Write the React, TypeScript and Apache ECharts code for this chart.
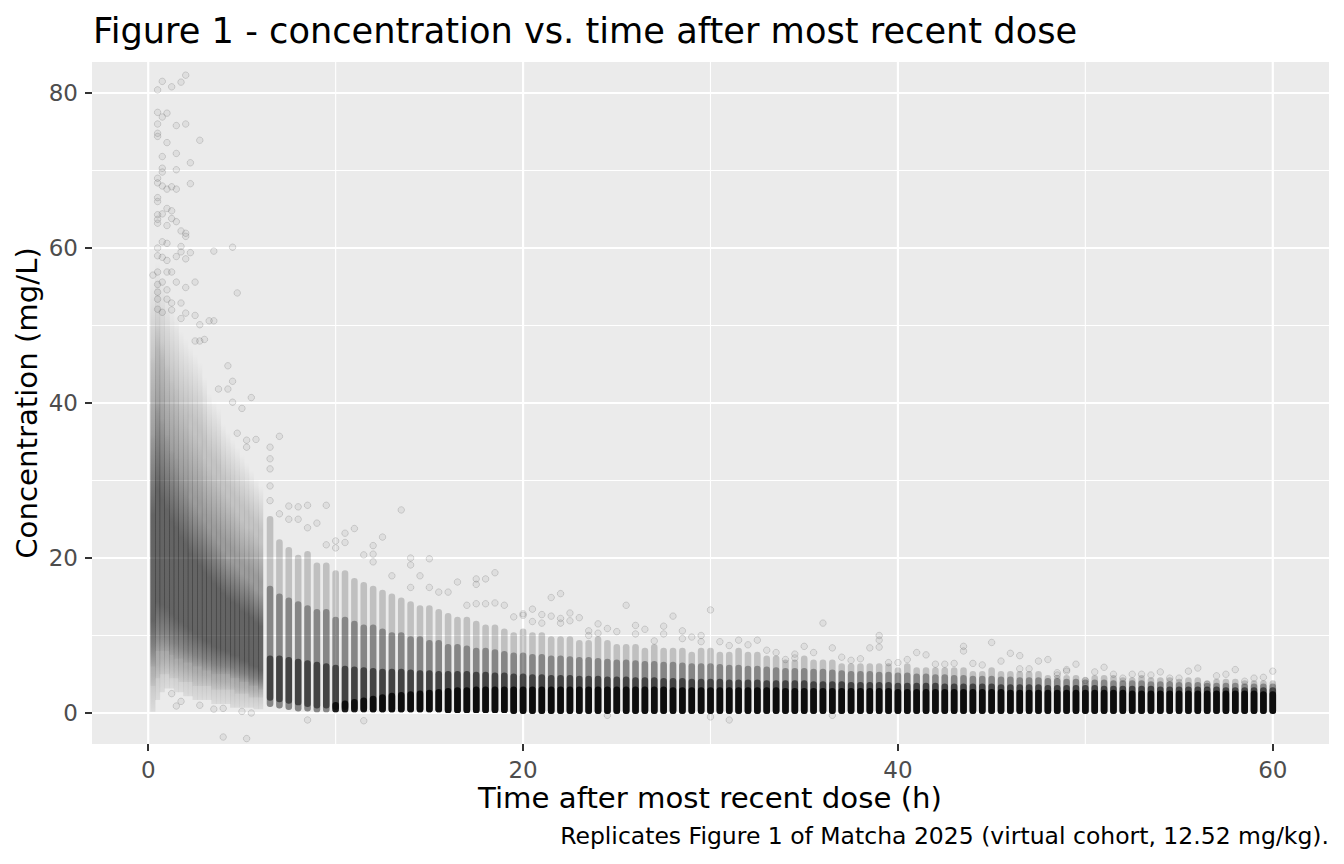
import * as echarts from "echarts";
import { useEffect, useRef } from "react";

// axis ticks and grid
const xMajor = [0, 20, 40, 60];
const xMinor = [10, 30, 50];
const yMajor = [0, 20, 40, 60, 80];
const yMinor = [10, 30, 50, 70];

// 0-6 h: dense cloud, sampled every 0.25 h (low / top of the spread, mid and core density bands)
const earlyTimes = [0.25, 0.5, 0.75, 1.0, 1.25, 1.5, 1.75, 2.0, 2.25, 2.5, 2.75, 3.0, 3.25, 3.5, 3.75, 4.0, 4.25, 4.5, 4.75, 5.0, 5.25, 5.5, 5.75, 6.0];
const earlyLow = [0.5, 2, 3, 3.5, 3.5, 3, 3, 2.5, 2.5, 2, 2, 2, 2, 1.5, 1.5, 1.5, 1.5, 1, 1, 1, 1, 1, 0.8, 0.8];
const earlyTop = [56, 58, 56, 54, 52, 51, 49, 48, 47, 46, 45, 43, 41, 40, 39, 37, 36, 35, 34, 33, 32, 31, 30, 29];
const earlyMidLow = [3.5, 4.5, 5, 5, 4.5, 4.5, 4, 4, 4, 3.5, 3.5, 3.5, 3.5, 3, 3, 3, 3, 3, 2.5, 2.5, 2.5, 2, 2, 2];
const earlyMidTop = [46, 50, 48, 45, 43, 42, 40, 39, 37, 36, 35, 33, 32, 31, 30, 29, 28, 27, 26, 25, 24, 24, 23, 22];
const earlyCoreLow = [6, 8, 8, 8, 7.5, 7, 7, 6.5, 6.5, 6, 6, 5.5, 5.5, 5, 5, 5, 5, 4.5, 4.5, 4, 4, 3.5, 3.5, 3];
const earlyCoreTop = [36, 40, 38, 36, 34, 33, 31, 30, 28, 27, 26, 25, 24, 23, 22, 21, 20, 19.5, 19, 18, 17.5, 17, 16, 15.5];

// 6.5-60 h: one column of subjects every 0.5 h
const lateTimes = [
  6.5, 7, 7.5, 8, 8.5, 9, 9.5, 10, 10.5, 11, 11.5, 12, 12.5, 13, 13.5, 14, 14.5, 15, 15.5, 16, 16.5, 17, 17.5, 18, 18.5, 19, 19.5, 20,
  20.5, 21, 21.5, 22, 22.5, 23, 23.5, 24, 24.5, 25, 25.5, 26, 26.5, 27, 27.5, 28, 28.5, 29, 29.5, 30,
  30.5, 31, 31.5, 32, 32.5, 33, 33.5, 34, 34.5, 35, 35.5, 36, 36.5, 37, 37.5, 38, 38.5, 39, 39.5, 40,
  40.5, 41, 41.5, 42, 42.5, 43, 43.5, 44, 44.5, 45, 45.5, 46, 46.5, 47, 47.5, 48, 48.5, 49, 49.5, 50,
  50.5, 51, 51.5, 52, 52.5, 53, 53.5, 54, 54.5, 55, 55.5, 56, 56.5, 57, 57.5, 58, 58.5, 59, 59.5, 60,
];
const lateLow = [
  1.2, 1.0, 0.8, 0.6, 0.6, 0.5, 0.5, 0.5, 0.5, 0.5, 0.5, 0.5, 0.5, 0.5, 0.5, 0.5, 0.5, 0.5, 0.5, 0.4, 0.4, 0.4, 0.4, 0.4, 0.4, 0.4, 0.3, 0.3,
  0.3, 0.3, 0.3, 0.3, 0.3, 0.3, 0.3, 0.3, 0.3, 0.3, 0.3, 0.3, 0.3, 0.3, 0.3, 0.3, 0.3, 0.3, 0.3, 0.3,
  0.3, 0.3, 0.3, 0.3, 0.3, 0.3, 0.3, 0.3, 0.3, 0.3, 0.3, 0.3, 0.3, 0.3, 0.3, 0.3, 0.3, 0.3, 0.3, 0.3,
  0.3, 0.3, 0.3, 0.3, 0.3, 0.3, 0.3, 0.3, 0.3, 0.3, 0.3, 0.3, 0.3, 0.3, 0.3, 0.3, 0.3, 0.3, 0.3, 0.3,
  0.3, 0.3, 0.3, 0.3, 0.3, 0.3, 0.3, 0.3, 0.3, 0.3, 0.3, 0.3, 0.3, 0.3, 0.3, 0.3, 0.3, 0.3, 0.3, 0.3,
];
const lateTop = [
  25, 22, 21, 20, 20.5, 19, 19, 18, 18, 17, 16.5, 16, 15.5, 15, 14.5, 14, 13.5, 13.5, 13, 12.5, 12, 12, 11.5, 11, 11, 10.5, 10, 10.5,
  10, 10, 9.5, 9.5, 9.5, 9, 9, 9.5, 9, 8.5, 8.5, 8.5, 8, 8.5, 8, 8, 8, 7.5, 8, 8,
  7.5, 7.5, 8, 7.5, 7.5, 7, 7, 6.5, 6.5, 7, 6.5, 6.5, 6.5, 6, 6, 6, 6, 6, 6, 5.5,
  6, 5.5, 5.5, 5.5, 5.5, 5.5, 5.5, 5, 5, 5.5, 5, 5, 5, 5, 5, 4.5, 4.5, 4.5, 4.5, 4.2,
  4.5, 4.5, 4.5, 4.2, 4.2, 4.5, 4.2, 4.2, 4.2, 4, 4.2, 4.2, 3.8, 4, 4, 4, 3.8, 3.8, 3.8, 3.8,
];
const lateMid = [
  16, 15, 14.5, 14, 13.5, 13, 13, 12, 12, 11.5, 11, 11, 10.5, 10, 10, 9.5, 9.5, 9, 9, 8.5, 8.5, 8.3, 8, 8, 7.8, 7.6, 7.4, 7.4,
  7.2, 7.2, 7, 7, 6.9, 6.8, 6.8, 6.7, 6.6, 6.5, 6.5, 6.4, 6.3, 6.3, 6.2, 6.2, 6.1, 6, 6, 6,
  5.9, 5.8, 5.8, 5.7, 5.7, 5.6, 5.5, 5.4, 5.4, 5.4, 5.3, 5.3, 5.2, 5.1, 5, 5, 5, 4.9, 4.9, 4.8,
  4.8, 4.7, 4.7, 4.6, 4.6, 4.5, 4.5, 4.4, 4.4, 4.4, 4.3, 4.3, 4.2, 4.2, 4.2, 4.1, 4.1, 4, 4, 3.9,
  3.9, 3.9, 3.8, 3.8, 3.8, 3.8, 3.7, 3.7, 3.7, 3.6, 3.6, 3.6, 3.5, 3.5, 3.5, 3.5, 3.4, 3.4, 3.4, 3.4,
];
const lateDark = [
  7, 7, 6.8, 6.6, 6.4, 6.2, 6, 5.8, 5.7, 5.6, 5.5, 5.4, 5.3, 5.3, 5.3, 5.2, 5.1, 5.1, 5, 5, 5, 5, 4.9, 4.9, 4.8, 4.8, 4.7, 4.7,
  4.6, 4.6, 4.5, 4.5, 4.5, 4.4, 4.4, 4.4, 4.3, 4.3, 4.3, 4.2, 4.2, 4.2, 4.1, 4.1, 4.1, 4, 4, 4,
  4, 3.9, 3.9, 3.9, 3.9, 3.8, 3.8, 3.8, 3.8, 3.8, 3.7, 3.7, 3.7, 3.7, 3.6, 3.6, 3.6, 3.6, 3.6, 3.5,
  3.5, 3.5, 3.5, 3.5, 3.4, 3.4, 3.4, 3.4, 3.4, 3.4, 3.3, 3.3, 3.3, 3.3, 3.3, 3.2, 3.2, 3.2, 3.2, 3.2,
  3.2, 3.1, 3.1, 3.1, 3.1, 3.1, 3.1, 3, 3, 3, 3, 3, 3, 3, 2.9, 2.9, 2.9, 2.9, 2.9, 2.9,
];
const lateDarkLow = [
  2, 1.8, 1.6, 1.4, 1.2, 1, 1, 0.8, 0.8, 0.7, 0.6, 0.5, 0.5, 0.5, 0.5, 0.5, 0.5, 0.5, 0.5, 0.4, 0.4, 0.4, 0.4, 0.4, 0.4, 0.4, 0.3, 0.3,
  0.3, 0.3, 0.3, 0.3, 0.3, 0.3, 0.3, 0.3, 0.3, 0.3, 0.3, 0.3, 0.3, 0.3, 0.3, 0.3, 0.3, 0.3, 0.3, 0.3,
  0.3, 0.3, 0.3, 0.3, 0.3, 0.3, 0.3, 0.3, 0.3, 0.3, 0.3, 0.3, 0.3, 0.3, 0.3, 0.3, 0.3, 0.3, 0.3, 0.3,
  0.3, 0.3, 0.3, 0.3, 0.3, 0.3, 0.3, 0.3, 0.3, 0.3, 0.3, 0.3, 0.3, 0.3, 0.3, 0.3, 0.3, 0.3, 0.3, 0.3,
  0.3, 0.3, 0.3, 0.3, 0.3, 0.3, 0.3, 0.3, 0.3, 0.3, 0.3, 0.3, 0.3, 0.3, 0.3, 0.3, 0.3, 0.3, 0.3, 0.3,
];
// 0 = no solid black core in that column
const lateBlack = [
  0, 0, 0, 0, 0, 0, 0, 1.0, 1.2, 1.4, 1.6, 1.8, 2.0, 2.2, 2.3, 2.4, 2.5, 2.6, 2.7, 2.8, 2.9, 2.9, 3, 3, 3, 3, 3, 3,
  3, 3, 3, 3, 3, 3, 3, 3, 3, 3, 3, 3, 3, 3, 3, 2.9, 2.9, 2.9, 2.9, 2.9,
  2.9, 2.9, 2.9, 2.9, 2.9, 2.9, 2.9, 2.8, 2.8, 2.8, 2.8, 2.8, 2.8, 2.8, 2.8, 2.8, 2.8, 2.8, 2.8, 2.7,
  2.7, 2.7, 2.7, 2.7, 2.7, 2.7, 2.7, 2.7, 2.7, 2.7, 2.7, 2.6, 2.6, 2.6, 2.6, 2.6, 2.6, 2.6, 2.6, 2.6,
  2.6, 2.6, 2.6, 2.6, 2.5, 2.5, 2.5, 2.5, 2.5, 2.5, 2.5, 2.5, 2.5, 2.5, 2.5, 2.5, 2.5, 2.5, 2.4, 2.4,
];

// isolated observations standing out of the clouds: [time (h), concentration (mg/L)]
const outliers: [number, number][] = [
  [0.5, 80.4], [0.75, 81.5], [1.25, 80.8], [1.75, 81.4], [2.0, 82.3],
  [0.5, 77.5], [0.75, 76.9], [1.0, 77.4], [0.5, 76.0], [1.5, 75.8], [2.0, 76.0], [0.5, 74.8], [0.5, 74.4], [1.0, 73.6], [2.75, 73.9],
  [0.75, 71.8], [1.5, 72.2], [2.25, 71.0], [0.75, 70.3], [0.75, 69.8], [1.5, 70.1], [0.5, 69.0], [0.5, 68.4], [0.75, 68.0], [1.0, 67.6],
  [1.25, 67.9], [1.5, 67.6], [2.25, 68.3], [0.5, 66.5], [0.5, 66.0], [1.0, 65.1], [1.25, 64.8], [0.5, 64.3], [0.5, 63.7], [0.5, 63.2],
  [0.75, 64.4], [1.25, 63.8], [1.5, 63.4], [1.0, 62.9], [1.75, 62.2], [2.0, 61.9], [2.0, 61.5], [0.75, 60.8], [1.0, 60.6], [1.75, 60.2],
  [1.75, 59.5], [0.5, 60.0], [0.5, 59.0], [0.75, 58.8], [1.0, 58.4], [1.5, 58.9], [2.0, 58.6], [2.25, 59.4], [3.5, 59.6], [4.5, 60.1],
  [0.5, 56.9], [1.0, 56.9], [1.25, 56.9], [0.25, 56.5], [0.75, 55.6], [1.5, 55.6], [2.0, 54.9], [2.5, 55.6], [4.75, 54.2],
  [0.5, 55.3], [0.5, 54.3], [0.5, 53.4], [1.0, 54.6], [1.0, 53.4], [1.25, 52.9], [1.75, 52.9],
  [0.5, 52.1], [0.75, 51.7], [1.25, 52.0], [1.75, 50.9], [2.0, 51.6], [2.5, 51.3], [2.75, 50.1], [3.25, 50.6], [3.5, 50.6],
  [2.5, 48.0], [2.75, 48.0], [3.0, 48.2], [4.25, 44.8], [4.5, 42.8], [3.75, 41.8], [4.25, 41.8], [4.5, 40.1], [5.0, 39.3],
  [5.5, 40.7], [4.75, 36.1], [5.25, 35.2], [5.25, 34.3], [5.75, 35.3],
  [1.5, 0.9], [1.75, 1.5], [2.75, 1.0], [3.5, 0.5], [4.0, 0.6], [5.0, 0.2], [5.5, 0.0], [1.25, 2.5], [4.0, -3.1], [5.25, -3.3],
  [6.5, 29.3], [6.5, 27.4], [6.5, 32.8], [6.5, 31.5], [6.5, 34.3], [7.0, 35.7], [7.0, 25.7], [7.5, 26.7], [8.0, 26.6], [8.5, 26.8],
  [9.5, 26.8], [7.5, 25.0], [8.0, 25.0], [9.0, 24.5], [8.5, 23.9], [9.5, 21.7], [10.0, 22.2], [10.5, 23.2], [11.0, 23.8], [10.0, 21.3],
  [10.5, 22.0], [12.5, 22.7], [13.5, 26.2], [11.5, 20.4], [12.0, 21.6], [12.0, 20.5], [12.0, 19.5], [14.0, 20.0], [15.0, 19.9],
  [14.0, 19.1], [14.5, 17.7], [13.0, 17.7], [14.0, 16.2], [15.0, 16.2], [15.5, 15.6], [16.5, 16.9], [16.0, 15.6], [17.0, 13.9],
  [17.5, 17.3], [17.5, 16.6], [18.0, 17.3], [18.5, 18.1], [17.5, 14.1], [18.0, 14.1], [18.5, 14.2], [19.0, 13.9], [19.5, 12.4],
  [20.0, 12.8], [11.5, -1.0], [8.5, -0.9],
  [20.0, 12.6], [20.5, 13.4], [21.0, 12.7], [21.5, 14.9], [22.0, 15.4], [21.5, 12.5], [22.0, 12.2], [22.5, 12.9], [23.0, 12.3],
  [23.5, 10.6], [24.0, 11.5], [24.5, 10.9], [25.0, 10.5], [25.5, 13.9], [26.0, 11.3], [26.5, 10.8], [27.0, 9.3], [27.5, 11.2],
  [28.0, 12.5], [28.5, 10.6], [29.0, 9.8], [29.5, 10.0], [30.0, 13.3], [30.5, 9.2], [31.0, 8.7], [31.5, 9.4], [32.0, 8.8],
  [32.5, 9.4], [33.0, 8.1], [33.5, 7.8], [34.0, 6.9], [34.5, 7.6], [24.5, -0.3], [30.0, -0.5], [31.0, -0.9],
  [20.5, 11.8], [21.0, 11.6], [22.0, 11.6], [22.5, 11.9], [23.5, 10.0], [24.0, 10.3], [26.0, 10.2], [27.5, 10.2], [28.5, 9.6], [29.5, 9.2],
  [34.5, 7.1], [35.0, 8.6], [35.5, 7.8], [36.0, 11.6], [36.5, 8.4], [37.0, 7.2], [37.5, 6.8], [38.0, 7.0], [38.5, 8.4], [39.0, 9.4],
  [39.0, 8.5], [39.0, 10.0], [39.5, 6.5], [40.0, 6.5], [40.5, 6.9], [41.0, 7.8], [41.5, 7.5], [42.0, 6.3], [42.5, 6.3], [43.0, 6.4],
  [43.5, 8.6], [43.5, 8.0], [44.0, 6.4], [44.5, 6.2], [45.0, 9.1], [45.5, 6.7], [46.0, 7.7], [46.5, 5.7], [46.5, 7.4], [47.0, 5.7],
  [47.5, 6.7], [48.0, 6.9], [48.5, 5.2], [49.0, 5.6], [36.5, -0.3],
  [48.5, 4.9], [49.0, 5.4], [49.5, 6.3], [50.0, 4.2], [50.5, 5.3], [51.0, 5.9], [51.5, 5.0], [52.0, 4.5], [52.5, 5.0], [53.0, 5.0],
  [53.5, 4.9], [54.0, 5.3], [54.5, 4.5], [55.0, 4.5], [55.5, 5.4], [56.0, 5.8], [56.5, 3.7], [57.0, 4.8], [57.5, 5.0], [58.0, 5.6],
  [58.5, 4.1], [59.0, 4.5], [59.5, 4.6], [60.0, 5.4],
];

const FONT = "DejaVu Sans";

function gridSeries(values: number[], vertical: boolean, width: number) {
  return {
    type: "custom",
    silent: true,
    data: values.map((v) => (vertical ? [v, 0] : [0, v])),
    encode: { x: 0, y: 1 },
    renderItem: (params: any, api: any) => {
      const cs = params.coordSys;
      const p = api.coord([api.value(0), api.value(1)]);
      const shape = vertical
        ? { x1: p[0], y1: cs.y, x2: p[0], y2: cs.y + cs.height }
        : { x1: cs.x, y1: p[1], x2: cs.x + cs.width, y2: p[1] };
      return { type: "line", shape, style: { stroke: "#ffffff", lineWidth: width } };
    },
  };
}

// soft vertical fade so the 0-6 h cloud has no hard edges
function fade(alpha: number, topFade: number, bottomFade: number, bottomAlpha: number) {
  return new echarts.graphic.LinearGradient(0, 0, 0, 1, [
    { offset: 0, color: "rgba(0,0,0,0)" },
    { offset: topFade, color: `rgba(0,0,0,${alpha})` },
    { offset: 1 - bottomFade, color: `rgba(0,0,0,${alpha})` },
    { offset: 1, color: `rgba(0,0,0,${alpha * bottomAlpha})` },
  ]);
}

function bandSeries(rows: number[][], fill: any, width: number, pad: number, radius: number) {
  return {
    type: "custom",
    silent: true,
    data: rows.filter((r) => r[2] > r[1]),
    encode: { x: 0, y: [1, 2] },
    renderItem: (_params: any, api: any) => {
      const t = api.value(0);
      const lo = api.coord([t, api.value(1)]);
      const hi = api.coord([t, api.value(2)]);
      const w = width > 0 ? width : api.size([0.25, 0])[0] + 0.4;
      return {
        type: "rect",
        shape: { x: lo[0] - w / 2, y: hi[1] - pad, width: w, height: lo[1] - hi[1] + 2 * pad, r: radius },
        style: { fill },
      };
    },
  };
}

export default function App() {
  const ref = useRef<HTMLDivElement | null>(null);

  useEffect(() => {
    if (!ref.current) return;
    const chart = echarts.init(ref.current, undefined, { renderer: "svg" });

    const early = (lo: number[], hi: number[]) => earlyTimes.map((t, i) => [t, lo[i], hi[i]]);
    const late = (lo: number[], hi: number[]) => lateTimes.map((t, i) => [t, lo[i], hi[i]]);

    const axisText = { color: "#4D4D4D", fontSize: 23, fontFamily: FONT };
    const tick = { show: true, length: 7, lineStyle: { color: "#333333", width: 2 } };

    chart.setOption({
      animation: false,
      grid: { left: 92, top: 62, width: 1237, height: 682, show: true, backgroundColor: "#EBEBEB", borderWidth: 0 },
      xAxis: {
        type: "value",
        min: -3,
        max: 63,
        axisLine: { show: true, onZero: false, lineStyle: { color: "rgba(0,0,0,0)" } },
        axisTick: { ...tick, customValues: xMajor },
        axisLabel: { ...axisText, customValues: xMajor, margin: 14 },
        splitLine: { show: false },
      },
      yAxis: {
        type: "value",
        min: -4,
        max: 84,
        axisLine: { show: true, onZero: false, lineStyle: { color: "rgba(0,0,0,0)" } },
        axisTick: { ...tick, customValues: yMajor },
        axisLabel: { ...axisText, customValues: yMajor, margin: 14 },
        splitLine: { show: false },
      },
      graphic: [
        {
          type: "text",
          x: 93,
          y: 30,
          style: { text: "Figure 1 - concentration vs. time after most recent dose", fontSize: 35.2, fontFamily: FONT, fill: "#000000", textAlign: "left", textVerticalAlign: "middle" },
        },
        {
          type: "text",
          x: 27,
          y: 403,
          rotation: Math.PI / 2,
          style: { text: "Concentration (mg/L)", fontSize: 29.2, fontFamily: FONT, fill: "#000000", textAlign: "center", textVerticalAlign: "middle" },
        },
        {
          type: "text",
          x: 710,
          y: 798,
          style: { text: "Time after most recent dose (h)", fontSize: 29.2, fontFamily: FONT, fill: "#000000", textAlign: "center", textVerticalAlign: "middle" },
        },
        {
          type: "text",
          x: 1329,
          y: 836,
          style: { text: "Replicates Figure 1 of Matcha 2025 (virtual cohort, 12.52 mg/kg).", fontSize: 23.5, fontFamily: FONT, fill: "#000000", textAlign: "right", textVerticalAlign: "middle" },
        },
      ],
      series: [
        gridSeries(xMinor, true, 1.1),
        gridSeries(yMinor, false, 1.1),
        gridSeries(xMajor, true, 2.2),
        gridSeries(yMajor, false, 2.2),
        bandSeries(early(earlyLow, earlyTop), fade(0.17, 0.2, 0.08, 0.4), 0, 2.5, 0),
        bandSeries(early(earlyMidLow, earlyMidTop), fade(0.2, 0.25, 0.12, 0.2), 0, 0, 0),
        bandSeries(early(earlyCoreLow, earlyCoreTop), fade(0.36, 0.35, 0.2, 0.1), 0, 0, 0),
        bandSeries(late(lateLow, lateTop), "rgba(0,0,0,0.18)", 6.6, 3.2, 3.2),
        bandSeries(late(lateLow, lateMid), "rgba(0,0,0,0.3)", 6.6, 3.2, 3.2),
        bandSeries(late(lateDarkLow, lateDark), "rgba(0,0,0,0.5)", 6.6, 3.2, 3.2),
        bandSeries(late(lateLow, lateBlack), "rgba(0,0,0,0.8)", 6.6, 3.2, 3.2),
        {
          type: "scatter",
          silent: true,
          data: outliers,
          symbol: "circle",
          symbolSize: 6.5,
          itemStyle: { color: "rgba(0,0,0,0.07)", borderColor: "rgba(0,0,0,0.16)", borderWidth: 1 },
        },
      ],
    });

    return () => chart.dispose();
  }, []);

  return <div ref={ref} style={{ position: "fixed", left: 0, top: 0, width: 1344, height: 864, background: "#ffffff" }} />;
}
